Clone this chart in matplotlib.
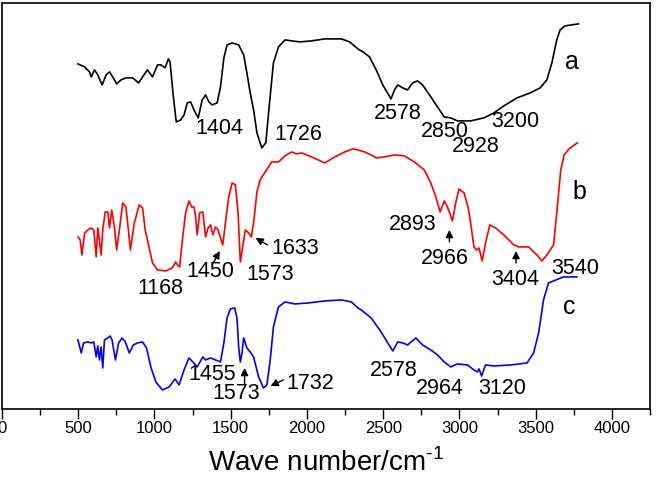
import matplotlib
matplotlib.use("Agg")
import matplotlib.pyplot as plt

plt.rcParams["font.family"] = ["Liberation Sans", "DejaVu Sans"]
plt.rcParams["mathtext.fontset"] = "custom"
plt.rcParams["mathtext.rm"] = "Liberation Sans"

# === Spectra (wave number, transmittance a.u., curves already offset) ===
wn_a = [498, 542, 574, 585, 607, 628, 657, 683, 705, 726, 752, 781, 813, 857, 896, 922,
        954, 987, 1020, 1042, 1070, 1091, 1102, 1124, 1143, 1172, 1194, 1215, 1237, 1259,
        1287, 1313, 1335, 1357, 1378, 1411, 1433, 1455, 1476, 1509, 1552, 1585, 1606, 1628,
        1650, 1672, 1704, 1730, 1752, 1780, 1813, 1856, 1900, 1954, 2030, 2117, 2226, 2280,
        2334, 2367, 2410, 2454, 2497, 2551, 2574, 2595, 2628, 2660, 2693, 2725, 2758, 2812,
        2856, 2900, 2943, 2986, 3073, 3160, 3226, 3291, 3377, 3464, 3529, 3573, 3606, 3638,
        3660, 3692, 3736, 3780]
t_a = [345, 342, 337, 332, 339, 334, 324, 334, 337, 332, 325, 329, 331, 331, 326, 332,
       339, 332, 344, 344, 341, 350, 347, 312, 287, 289, 294, 306, 307, 299,
       291, 309, 314, 307, 304, 306, 322, 351, 364, 366, 364, 354, 336, 316,
       299, 276, 261, 266, 302, 346, 362, 369, 368, 367, 368, 370, 370, 367,
       360, 357, 352, 339, 324, 310, 319, 324, 321, 319, 326, 328, 324, 312,
       302, 292, 291, 288, 288, 291, 296, 303, 311, 316, 321, 329, 346, 369,
       379, 383, 384, 385]

wn_b = [498, 513, 524, 542, 563, 585, 602, 618, 628, 639, 650, 661, 677, 694, 705, 720,
        737, 752, 770, 792, 813, 829, 842, 868, 900, 922, 939, 954, 987, 1020, 1074, 1117,
        1139, 1150, 1165, 1183, 1204, 1226, 1243, 1259, 1270, 1280, 1296, 1317, 1335, 1352,
        1368, 1383, 1400, 1417, 1433, 1448, 1465, 1487, 1509, 1531, 1548, 1563, 1578, 1596,
        1617, 1635, 1650, 1672, 1693, 1726, 1769, 1813, 1856, 1900, 1932, 1965, 2030, 2117,
        2182, 2248, 2302, 2334, 2378, 2421, 2454, 2508, 2574, 2639, 2704, 2769, 2812, 2845,
        2873, 2900, 2921, 2954, 2975, 2997, 3030, 3056, 3073, 3095, 3112, 3128, 3149, 3171,
        3199, 3236, 3291, 3356, 3388, 3454, 3508, 3540, 3573, 3617, 3638, 3664, 3686, 3725,
        3773]
t_b = [172, 169, 154, 176, 179, 181, 179, 152, 181, 169, 154, 179, 197, 197, 181, 199,
       182, 159, 179, 206, 202, 179, 159, 186, 204, 201, 179, 169, 146, 139, 138, 141,
       147, 144, 142, 169, 196, 208, 202, 202, 192, 174, 196, 197, 172, 181,
       184, 174, 182, 179, 171, 164, 186, 212, 226, 224, 196, 147, 162, 179,
       176, 172, 186, 217, 229, 237, 247, 247, 253, 257, 255, 256, 252, 246,
       252, 257, 260, 259, 257, 254, 251, 252, 254, 253, 247, 239, 226, 212,
       197, 208, 202, 188, 206, 220, 216, 202, 186, 162, 159, 161, 148, 166,
       184, 181, 174, 164, 162, 162, 154, 148, 154, 164, 196, 239, 254, 261,
       266]

wn_c = [498, 520, 535, 563, 585, 602, 618, 628, 639, 650, 661, 672, 694, 709, 722, 744,
        765, 787, 809, 835, 861, 889, 922, 948, 976, 1009, 1052, 1096, 1135, 1161, 1194,
        1226, 1252, 1280, 1317, 1335, 1368, 1400, 1433, 1455, 1476, 1498, 1526, 1541, 1552,
        1563, 1574, 1585, 1606, 1628, 1650, 1683, 1715, 1737, 1759, 1780, 1813, 1856, 1922,
        2009, 2117, 2226, 2291, 2334, 2356, 2421, 2486, 2530, 2563, 2595, 2628, 2660, 2714,
        2758, 2812, 2856, 2900, 2943, 2986, 3052, 3095, 3117, 3128, 3145, 3171, 3226, 3334,
        3443, 3486, 3519, 3551, 3584, 3617, 3682, 3769]
t_c = [69, 56, 66, 67, 66, 67, 52, 63, 49, 62, 41, 69, 71, 73, 69, 49,
       66, 71, 67, 56, 64, 66, 67, 61, 42, 27, 19, 22, 30, 24, 39,
       51, 47, 42, 52, 49, 51, 49, 47, 66, 91, 100, 101, 91, 62,
       47, 56, 71, 61, 57, 52, 32, 21, 24, 49, 82, 102, 107, 105,
       106, 108, 109, 107, 101, 99, 91, 77, 66, 58, 67, 66, 64, 71,
       64, 59, 54, 47, 42, 45, 44, 39, 37, 40, 33, 44, 43, 44,
       46, 56, 76, 109, 126, 128, 132, 132]

# peak labels: (text, wave number, T)
labels_a = [("1404", 1428, 280), ("1726", 1943, 274), ("2578", 2595, 295),
            ("2850", 2902, 277), ("2928", 3110, 262), ("3200", 3364, 287)]
labels_b = [("1168", 1037, 120), ("1450", 1363, 137), ("1573", 1761, 134),
            ("1633", 1924, 160), ("2893", 2693, 184), ("2966", 2902, 150),
            ("3404", 3364, 129), ("3540", 3756, 140)]
labels_c = [("1455", 1376, 34), ("1573", 1539, 15), ("1732", 2021, 25),
            ("2578", 2569, 38), ("2964", 2869, 20), ("3120", 3280, 20)]
# arrows: (tip wn, tip T, tail wn, tail T)
arrows = [(1428, 158, 1389, 147), (1663, 171, 1741, 164), (2934, 179, 2934, 167),
          (3371, 158, 3371, 146), (1591, 41, 1591, 24), (1761, 23, 1845, 29)]
curve_names = [("a", 3736, 347), ("b", 3788, 217), ("c", 3723, 102)]

# === Plot ===
fig = plt.figure(figsize=(6.56, 4.8), dpi=100)
ax = fig.add_axes([0.003, 0.148, 0.988, 0.846])

ax.plot(wn_a, t_a, color="black", linewidth=1.2)
ax.plot(wn_b, t_b, color="red", linewidth=1.2)
ax.plot(wn_c, t_c, color="blue", linewidth=1.2)

for txt, x, y in labels_a + labels_b + labels_c:
    ax.text(x, y, txt, fontsize=15.5, ha="center", va="center")

for x1, y1, x0, y0 in arrows:
    ax.annotate("", xy=(x1, y1), xytext=(x0, y0),
                arrowprops=dict(arrowstyle="-|>", color="black", lw=1.0, mutation_scale=11,
                                shrinkA=0, shrinkB=0))

for txt, x, y in curve_names:
    ax.text(x, y, txt, fontsize=18, ha="center", va="center")

ax.set_xlim(0, 4225)
ax.set_ylim(0, 406)
ax.set_xticks(range(0, 4001, 500))
ax.set_xticks(range(250, 4251, 500), minor=True)
ax.set_yticks([])
ax.tick_params(axis="x", which="major", direction="out", length=7, width=1, labelsize=12, pad=2)
ax.tick_params(axis="x", which="minor", direction="out", length=4, width=1)
for sp in ax.spines.values():
    sp.set_linewidth(1.2)

ax.set_xlabel(r"Wave number/cm$^{\text{-1}}$", fontsize=20, labelpad=9)

plt.savefig("out.png", dpi=100)
